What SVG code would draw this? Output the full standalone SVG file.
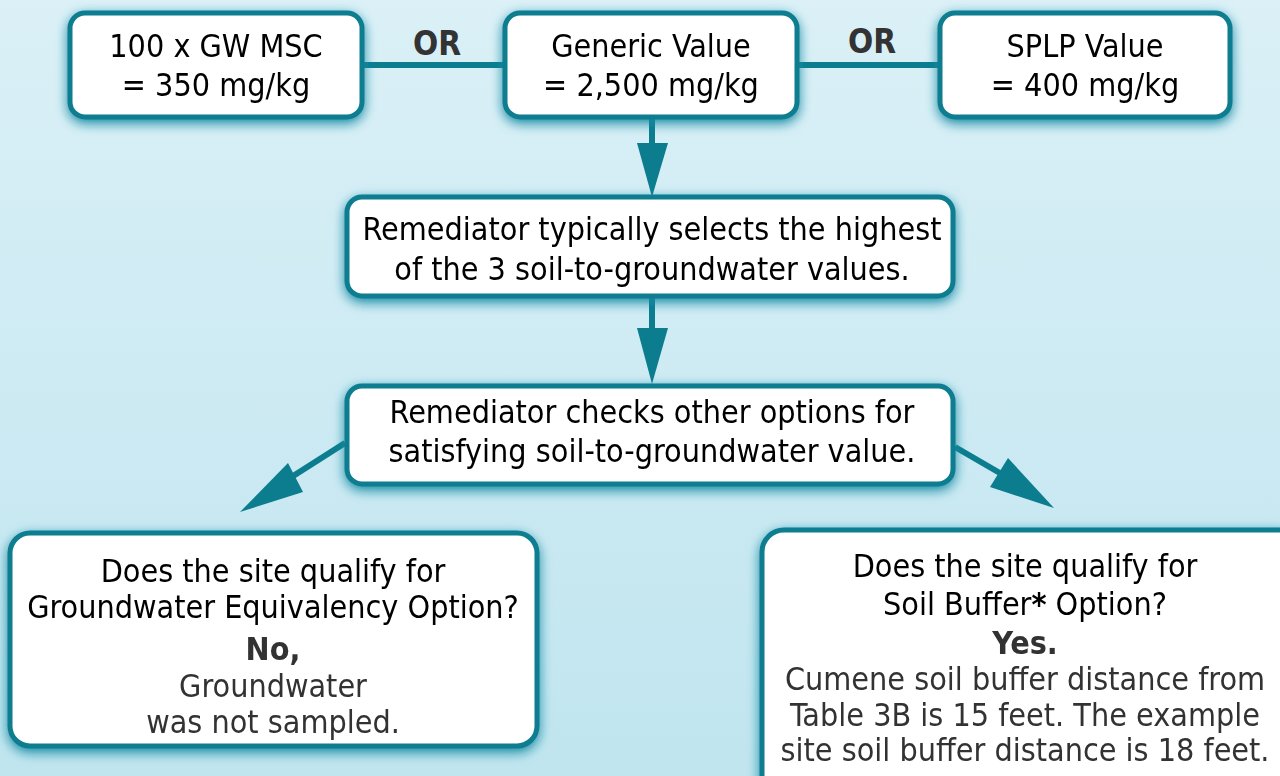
<svg xmlns="http://www.w3.org/2000/svg" width="1280" height="776" viewBox="0 0 1280 776">
<defs>
<linearGradient id="bg" x1="0" y1="0" x2="0" y2="1">
<stop offset="0" stop-color="#dbf0f7"/>
<stop offset="1" stop-color="#c0e5ef"/>
</linearGradient>
<filter id="glow" x="-10%" y="-20%" width="120%" height="150%">
<feGaussianBlur in="SourceAlpha" stdDeviation="6" result="b"/>
<feOffset in="b" dx="0" dy="4" result="o"/>
<feFlood flood-color="#168aa3" flood-opacity="1"/>
<feComposite in2="o" operator="in" result="s"/>
<feMerge><feMergeNode in="s"/><feMergeNode in="SourceGraphic"/></feMerge>
</filter>
</defs>
<style>
.box{fill:#ffffff;stroke:#0b7d8f;stroke-width:5}
.t{font-family:"DejaVu Sans Condensed","DejaVu Sans",sans-serif;font-size:32px;fill:#000;text-anchor:middle}
.g{fill:#333333}
.b{font-weight:bold}
.or{font-family:"DejaVu Sans Condensed","DejaVu Sans",sans-serif;font-size:33px;font-weight:bold;fill:#333;text-anchor:middle}
.ln{stroke:#0b7d8f;stroke-width:6;fill:none}
.ah{fill:#0b7d8f}
</style>
<rect width="1280" height="776" fill="url(#bg)"/>
<g id="connectors">
<line class="ln" x1="362" y1="65" x2="505" y2="65"/>
<line class="ln" x1="797" y1="65" x2="940" y2="65"/>
<line class="ln" x1="652" y1="117" x2="652" y2="150"/>
<polygon class="ah" points="637,143 668,143 652,197"/>
<line class="ln" x1="652" y1="296" x2="652" y2="335"/>
<polygon class="ah" points="637,328 668,328 652,384"/>
<line class="ln" x1="345" y1="443" x2="290" y2="478"/>
<polygon class="ah" points="288,463 303,492 240,512"/>
<line class="ln" x1="955" y1="447" x2="1005" y2="476"/>
<polygon class="ah" points="1008,458 990,487 1054,508"/>
<text class="or" x="437" y="55">OR</text>
<text class="or" x="872" y="53">OR</text>
</g>
<g id="n1" filter="url(#glow)">
<rect class="box" x="70" y="13" width="292" height="104" rx="15"/>
<text class="t" x="216" y="57">100 x GW MSC</text>
<text class="t" x="216" y="96">= 350 mg/kg</text>
</g>
<g id="n2" filter="url(#glow)">
<rect class="box" x="505" y="13" width="292" height="104" rx="15"/>
<text class="t" x="651" y="57">Generic Value</text>
<text class="t" x="651" y="96">= 2,500 mg/kg</text>
</g>
<g id="n3" filter="url(#glow)">
<rect class="box" x="940" y="13" width="290" height="104" rx="15"/>
<text class="t" x="1085" y="57">SPLP Value</text>
<text class="t" x="1085" y="96">= 400 mg/kg</text>
</g>
<g id="n4" filter="url(#glow)">
<rect class="box" x="347" y="197" width="606" height="99" rx="15"/>
<text class="t" x="652" y="240">Remediator typically selects the highest</text>
<text class="t" x="652" y="280">of the 3 soil-to-groundwater values.</text>
</g>
<g id="n5" filter="url(#glow)">
<rect class="box" x="347" y="386" width="606" height="98" rx="15"/>
<text class="t" x="652" y="423">Remediator checks other options for</text>
<text class="t" x="652" y="462">satisfying soil-to-groundwater value.</text>
</g>
<g id="n6" filter="url(#glow)">
<rect class="box" x="10" y="533" width="527" height="213" rx="20"/>
<text class="t" x="273" y="582">Does the site qualify for</text>
<text class="t" x="273" y="618">Groundwater Equivalency Option?</text>
<text class="t g b" x="273" y="660">No,</text>
<text class="t g" x="273" y="697">Groundwater</text>
<text class="t g" x="273" y="733">was not sampled.</text>
</g>
<g id="n7" filter="url(#glow)">
<rect class="box" x="762" y="530" width="540" height="270" rx="22"/>
<text class="t" x="1025" y="577">Does the site qualify for</text>
<text class="t" x="1025" y="615">Soil Buffer<tspan class="b">*</tspan> Option?</text>
<text class="t g b" x="1025" y="654">Yes.</text>
<text class="t g" x="1025" y="690">Cumene soil buffer distance from</text>
<text class="t g" x="1025" y="726">Table 3B is 15 feet. The example</text>
<text class="t g" x="1025" y="761">site soil buffer distance is 18 feet.</text>
</g>
</svg>
